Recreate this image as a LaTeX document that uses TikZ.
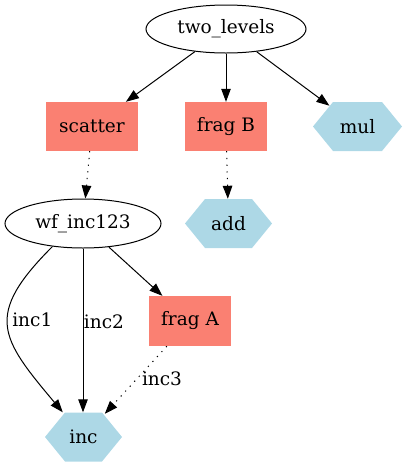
\documentclass[tikz,border=0pt]{standalone}
\usepackage{fontspec}
\setmainfont{DejaVu Serif}
\usetikzlibrary{arrows.meta,shapes.geometric}
\definecolor{salmonc}{RGB}{250,128,114}
\definecolor{lbluec}{RGB}{173,216,230}
\tikzset{
  base/.style={inner sep=0pt,font=\fontsize{18.5}{22}\selectfont},
  ell/.style={base,ellipse,draw,line width=1pt},
  boxn/.style={base,rectangle,fill=salmonc,minimum height=49pt},
  hexa/.style={base,rectangle,minimum height=49pt,
    path picture={\fill[lbluec]
      (path picture bounding box.west) --
      ([xshift=20pt]path picture bounding box.north west) --
      ([xshift=-20pt]path picture bounding box.north east) --
      (path picture bounding box.east) --
      ([xshift=-20pt]path picture bounding box.south east) --
      ([xshift=20pt]path picture bounding box.south west) -- cycle;}},
  arr/.style={line width=1pt,-{Triangle[length=13pt,width=9.5pt]}},
  dotl/.style={arr,dash pattern=on 1.2pt off 5.5pt},
  lab/.style={base,anchor=west,inner sep=4pt}
}
\begin{document}
\begin{tikzpicture}[x=1pt,y=1pt]
\useasboundingbox (0,0) rectangle (407,-467);
\node[ell,minimum width=160pt,minimum height=48pt] (tl) at (226,-29) {two\_levels};
\node[boxn,minimum width=92pt] (scatter) at (92,-126.5) {scatter};
\node[boxn,minimum width=82pt] (fragB) at (226,-126.5) {frag B};
\node[hexa,minimum width=89pt] (mul) at (357.5,-126.5) {mul};
\node[ell,minimum width=156pt,minimum height=49pt] (wf) at (83,-223.5) {wf\_inc123};
\node[hexa,minimum width=87pt] (add) at (228.5,-223.5) {add};
\node[boxn,minimum width=82pt,minimum height=50pt] (fragA) at (190,-321) {frag A};
\node[hexa,minimum width=77pt] (inc) at (83.5,-437) {inc};

\draw[arr] (tl) -- (scatter);
\draw[arr] (tl) -- (fragB);
\draw[arr,shorten >=-6.5pt] (tl) -- (mul);
\draw[dotl] (scatter) -- (wf);
\draw[dotl] (fragB) -- (add);
\draw[arr] (wf.217) to[out=225,in=130,looseness=1.5] node[lab,pos=0.45] {inc1} (inc);
\draw[arr] (wf) -- node[lab,pos=0.445,inner sep=0.5pt] {inc2} (wf |- inc.north);
\draw[arr] (wf) -- (fragA);
\draw[dotl,shorten >=-2pt] (fragA) -- node[lab,pos=0.5,inner sep=5pt] {inc3} (inc);
\end{tikzpicture}
\end{document}
